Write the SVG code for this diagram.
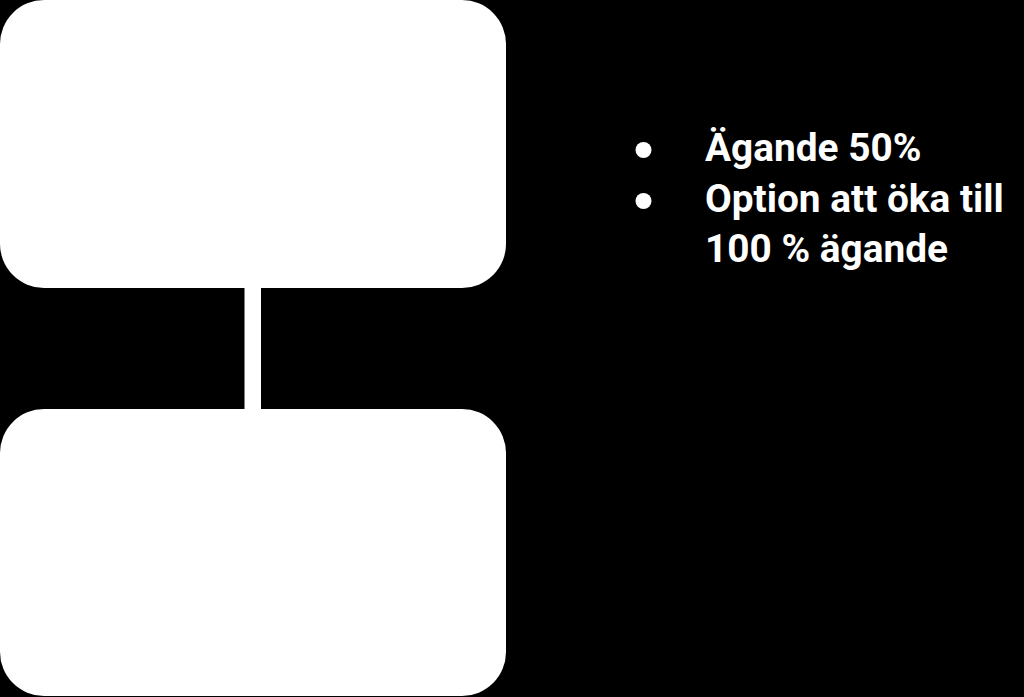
<svg xmlns="http://www.w3.org/2000/svg" width="1024" height="697" viewBox="0 0 1024 697">
  <style>
    .box { fill: #ffffff; }
    .txt { font-family: Roboto, "Liberation Sans", sans-serif; font-weight: 700; font-size: 38.8px; fill: #ffffff; }
    .dot { fill: #ffffff; }
  </style>
  <rect x="0" y="0" width="1024" height="697" fill="#000000"/>
  <g id="connectors">
    <rect x="244.5" y="280" width="16.5" height="140" fill="#ffffff"/>
  </g>
  <g id="node-top">
    <rect class="box" x="0" y="0" width="506" height="288" rx="44" ry="44"/>
  </g>
  <g id="node-bottom">
    <rect class="box" x="0" y="409" width="506" height="287" rx="44" ry="44"/>
  </g>
  <g id="bullets">
    <circle class="dot" cx="643.5" cy="150" r="8"/>
    <circle class="dot" cx="643.5" cy="201" r="8"/>
    <text class="txt" x="705" y="161">Ägande 50%</text>
    <text class="txt" x="705" y="211.5">Option att öka till</text>
    <text class="txt" x="705" y="262">100 % ägande</text>
  </g>
</svg>
